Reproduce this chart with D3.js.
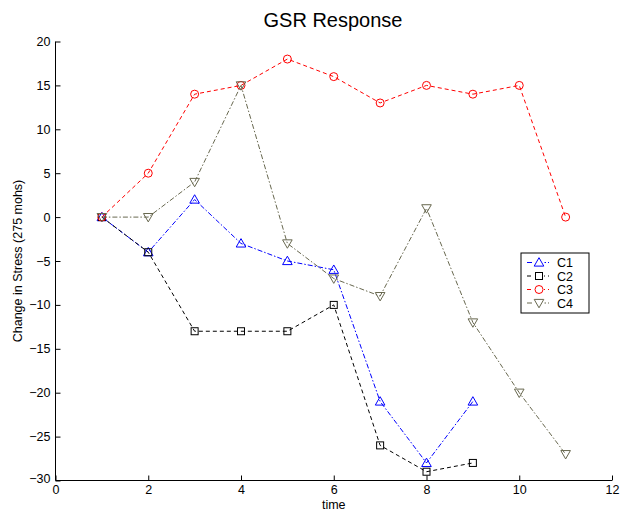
<!DOCTYPE html>
<html>
<head>
<meta charset="utf-8">
<script src="https://cdn.jsdelivr.net/npm/d3@7"></script>
<style>
  html, body { margin: 0; padding: 0; background: #fff; }
  svg { display: block; font-family: "Liberation Sans", Arial, sans-serif; }
</style>
</head>
<body>
<svg id="chart" width="622" height="514"></svg>
<script>
// GSR change in stress over time for four conditions
const timeC1 = [1, 2, 3, 4, 5, 6, 7, 8, 9];
const valuesC1 = [0, -4, 2, -3, -5, -6, -21, -28, -21];
const timeC2 = [1, 2, 3, 4, 5, 6, 7, 8, 9];
const valuesC2 = [0, -4, -13, -13, -13, -10, -26, -29, -28];
const timeC3 = [1, 2, 3, 4, 5, 6, 7, 8, 9, 10, 11];
const valuesC3 = [0, 5, 14, 15, 18, 16, 13, 15, 14, 15, 0];
const timeC4 = [1, 2, 3, 4, 5, 6, 7, 8, 9, 10, 11];
const valuesC4 = [0, 0, 4, 15, -3, -7, -9, 1, -12, -20, -27];

const xTicks = [0, 2, 4, 6, 8, 10, 12];
const yTicks = [-30, -25, -20, -15, -10, -5, 0, 5, 10, 15, 20];

const series = [
  { name: "C1", t: timeC1, v: valuesC1, color: "#0000ff", dash: "5,2,1.5,2", marker: "triUp" },
  { name: "C2", t: timeC2, v: valuesC2, color: "#000000", dash: "4,3", marker: "square" },
  { name: "C3", t: timeC3, v: valuesC3, color: "#ff0000", dash: "4,3", marker: "circle" },
  { name: "C4", t: timeC4, v: valuesC4, color: "#68684f", dash: "5,2,1.5,2", marker: "triDown" }
];

const svg = d3.select("#chart");
const plotLeft = 55.5, plotRight = 612, plotTop = 41.5, plotBottom = 480.5;

const x = d3.scaleLinear().domain([0, 12]).range([plotLeft, plotRight]);
const y = d3.scaleLinear().domain([-30, 20]).range([plotBottom, plotTop]);

// axes (ticks point inward)
const xAxis = svg.append("g").attr("transform", `translate(0,${plotBottom})`)
  .call(d3.axisBottom(x).tickValues(xTicks).tickSize(-5).tickPadding(5).tickFormat(d3.format("d")));
const yAxis = svg.append("g").attr("transform", `translate(${plotLeft},0)`)
  .call(d3.axisLeft(y).tickValues(yTicks).tickSize(-5).tickPadding(5)
    .tickFormat(d => d < 0 ? "\u2212" + Math.abs(d) : d));
[xAxis, yAxis].forEach(a => {
  a.selectAll("path").attr("stroke", "#000").attr("stroke-width", 1);
  a.selectAll("line").attr("stroke", "#000");
  a.selectAll("text").attr("font-size", 12.5).attr("fill", "#000")
    .attr("font-family", "Liberation Sans, Arial, sans-serif");
});
xAxis.select(".domain").attr("d", `M${plotLeft},0H${plotRight}`);
yAxis.select(".domain").attr("d", `M0,${plotTop}V${plotBottom}`);
yAxis.selectAll(".tick").filter(d => d === -30).select("text").attr("dy", "0.15em");

// markers
function drawMarker(g, kind, color) {
  if (kind === "triUp") {
    g.append("path").attr("d", "M0,-4.8L4.8,3.6L-4.8,3.6Z");
  } else if (kind === "triDown") {
    g.append("path").attr("d", "M0,4.8L4.8,-3.6L-4.8,-3.6Z");
  } else if (kind === "square") {
    g.append("rect").attr("x", -3.5).attr("y", -3.5).attr("width", 7).attr("height", 7);
  } else {
    g.append("circle").attr("r", 4);
  }
  g.selectAll("*").attr("fill", "none").attr("stroke", color).attr("stroke-width", 1);
}

const line = d3.line().x(d => x(d[0])).y(d => y(d[1]));
series.forEach(s => {
  const pts = s.t.map((t, i) => [t, s.v[i]]);
  svg.append("path").datum(pts).attr("d", line)
    .attr("fill", "none").attr("stroke", s.color).attr("stroke-width", 1)
    .attr("stroke-dasharray", s.dash);
  pts.forEach(p => {
    const g = svg.append("g").attr("transform", `translate(${x(p[0])},${y(p[1])})`);
    drawMarker(g, s.marker, s.color);
  });
});

// title and axis labels
svg.append("text").attr("x", 333).attr("y", 27).attr("text-anchor", "middle")
  .attr("font-size", 20).text("GSR Response");
svg.append("text").attr("x", x(6)).attr("y", 509).attr("text-anchor", "middle")
  .attr("font-size", 12.5).text("time");
svg.append("text").attr("transform", `translate(22,${y(-5)}) rotate(-90)`)
  .attr("text-anchor", "middle").attr("font-size", 12.5).text("Change in Stress (275 mohs)");

// legend
const lg = svg.append("g").attr("transform", "translate(521,253)");
lg.append("rect").attr("width", 68).attr("height", 60)
  .attr("fill", "#fff").attr("stroke", "#000").attr("stroke-width", 1);
series.forEach((s, i) => {
  const yy = 9.5 + i * 13.5;
  lg.append("line").attr("x1", 6).attr("x2", 28).attr("y1", yy).attr("y2", yy)
    .attr("stroke", s.color).attr("stroke-dasharray", s.dash);
  const g = lg.append("g").attr("transform", `translate(18,${yy})`);
  g.append("rect").attr("x", -5).attr("y", -5).attr("width", 10).attr("height", 10).attr("fill", "#fff");
  drawMarker(g.append("g"), s.marker, s.color);
  lg.append("text").attr("x", 36).attr("y", yy + 4.5).attr("font-size", 12.5).text(s.name);
});
</script>
</body>
</html>
